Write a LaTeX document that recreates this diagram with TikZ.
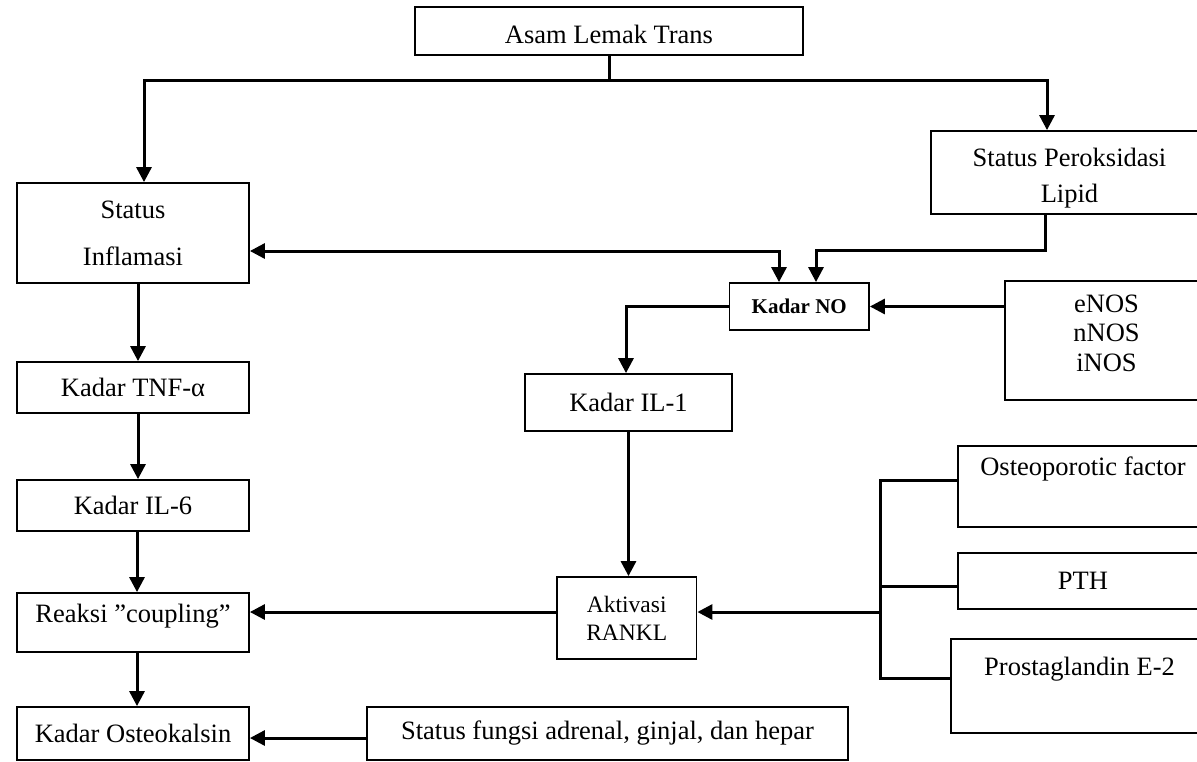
\documentclass[tikz,border=0pt]{standalone}
\usepackage{fontspec}
\setmainfont{Liberation Serif}
\usetikzlibrary{arrows.meta}
\newcommand{\bodyfs}{\fontsize{26.5pt}{30pt}\selectfont}
\newcommand{\nofs}{\fontsize{21pt}{25pt}\selectfont\bfseries}
\newcommand{\aktfs}{\fontsize{23.5pt}{28pt}\selectfont}
\begin{document}
\begin{tikzpicture}[x=1pt,y=-1pt,
  box/.style={draw, line width=1.8pt, inner sep=0pt, align=center, font=\bodyfs},
  conn/.style={line width=3pt},
  arr/.style={conn, -{Triangle[length=15pt,width=15pt]}},
  arrb/.style={conn, {Triangle[length=15pt,width=15pt]}-{Triangle[length=15pt,width=15pt]}}]
\useasboundingbox (0,0) rectangle (1197,761);
\clip (0,0) rectangle (1197,761);
\fill[white] (0,0) rectangle (1197,761);

\node[box, minimum width=388pt, minimum height=48pt] (asam) at (609,31) {\rule{0pt}{26pt}Asam Lemak Trans};
\node[box, minimum width=232pt, minimum height=100pt, font=\fontsize{26.5pt}{47pt}\selectfont] (status) at (133,233) {Status\\Inflamasi};
\node[box, minimum width=277pt, minimum height=83pt, font=\fontsize{26.5pt}{36pt}\selectfont] (perok) at (1069.5,172.5) {\rule{0pt}{23pt}Status Peroksidasi\\\smash{Lipid}};
\node[box, minimum width=139.5pt, minimum height=47pt, font=\nofs] (kadarno) at (799.25,306.5) {Kadar NO};
\node[box, minimum width=203pt, minimum height=119pt, font=\fontsize{26.5pt}{29.5pt}\selectfont] (enos) at (1106.5,340.5) {eNOS\\nNOS\\iNOS\rule[-15pt]{0pt}{15pt}};
\node[box, minimum width=207pt, minimum height=57pt] (il1) at (628.5,402.5) {Kadar IL-1};
\node[box, minimum width=232pt, minimum height=51pt] (tnf) at (133,387.5) {Kadar TNF-α};
\node[box, minimum width=232pt, minimum height=51pt] (il6) at (133,505.5) {Kadar IL-6};
\node[box, minimum width=232pt, minimum height=59pt] (reaksi) at (133,622.5) {Reaksi ”coupling”\rule[-19pt]{0pt}{19pt}};
\node[box, minimum width=139.5pt, minimum height=82pt, font=\aktfs] (akt) at (626.75,618) {Aktivasi\\RANKL};
\node[box, minimum width=250pt, minimum height=81pt] (osteo) at (1083,486.5) {Osteoporotic factor\rule[-40pt]{0pt}{40pt}};
\node[box, minimum width=250pt, minimum height=56pt] (pth) at (1083,581) {PTH};
\node[box, minimum width=257pt, minimum height=94pt] (prosta) at (1079.5,686) {Prostaglandin E-2\rule[-40pt]{0pt}{40pt}};
\node[box, minimum width=232pt, minimum height=53pt] (osteok) at (133,733.5) {Kadar Osteokalsin};
\node[box, minimum width=481pt, minimum height=53pt] (fungsi) at (607.5,733.5) {Status fungsi adrenal, ginjal, dan hepar};

\coordinate (j) at (609,80);
\draw[conn] (asam.south) -- (j);
\draw[arr] (j) -| ([xshift=11pt]status.north);
\draw[arr] (j) -| ([xshift=-22.5pt]perok.north);
\draw[arr] ([xshift=-24.5pt]perok.south) -- ++(0,36) -| ([xshift=16.75pt]kadarno.north);
\draw[arrb] ([yshift=-18pt]status.east) -| ([xshift=-20.25pt]kadarno.north);
\draw[arr] (enos.west |- kadarno.east) -- (kadarno.east);
\draw[arr] (kadarno.west) -| ([xshift=-2.5pt]il1.north);
\draw[arr] (il1.south) -- (il1.south |- akt.north);

\coordinate (bt) at (880,480);
\coordinate (bp) at (880,586);
\coordinate (bm) at (880,612);
\coordinate (bb) at (880,678);
\draw[conn] (bt -| osteo.west) -- (bt) -- (bb) -- (bb -| prosta.west);
\draw[conn] (bp) -- (bp -| pth.west);
\draw[arr] (bm) -- (bm -| akt.east);
\draw[arr] (bm -| akt.west) -- (bm -| reaksi.east);

\draw[arr] ([xshift=5pt]status.south) -- ([xshift=5pt]tnf.north);
\draw[arr] ([xshift=5pt]tnf.south) -- ([xshift=5pt]il6.north);
\draw[arr] ([xshift=4pt]il6.south) -- ([xshift=4pt]reaksi.north);
\draw[arr] ([xshift=4pt]reaksi.south) -- ([xshift=4pt]osteok.north);
\draw[arr] ([yshift=-4.5pt]fungsi.west) -- ([yshift=-4.5pt]osteok.east);
\end{tikzpicture}
\end{document}
